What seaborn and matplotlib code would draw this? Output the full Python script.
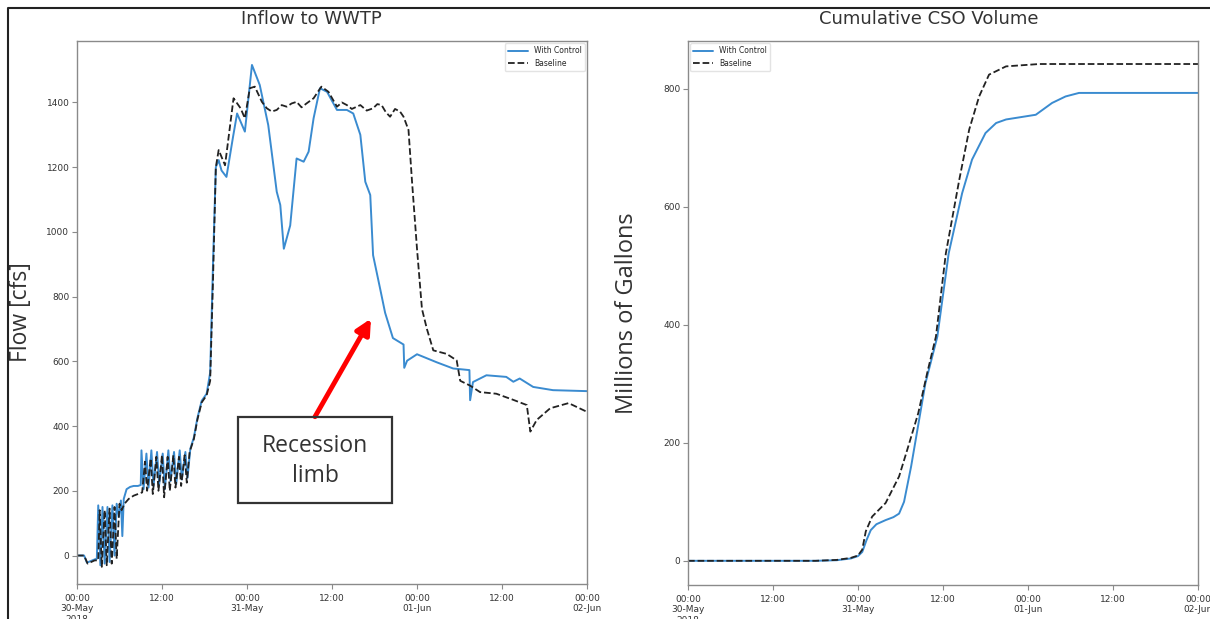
import matplotlib
matplotlib.use("Agg")
import matplotlib.pyplot as plt
from matplotlib.lines import Line2D
from matplotlib.patches import Rectangle
import numpy as np
import pandas as pd
import seaborn as sns

start = pd.Timestamp("2018-05-30 00:00")

# inflow to WWTP, hours from 30 May 00:00 -> cfs
ctrl_hours = [0, 1.0, 1.4, 2.5, 2.8, 3.0, 3.3, 3.6, 3.9, 4.3, 4.6, 5.0, 5.3, 5.6, 5.9,
              6.2, 6.4, 6.6, 7.0, 7.5, 8.0, 8.6, 9.0, 9.1, 9.4, 9.8, 10.1, 10.5, 10.8,
              11.3, 11.6, 12.1, 12.4, 12.9, 13.2, 13.7, 14.0, 14.5, 14.8, 15.3, 15.6,
              16.0, 16.5, 17.0, 17.6, 18.3, 18.8, 19.2, 19.6, 20.0, 20.4, 21.1, 22.0,
              22.6, 23.7, 24.7, 25.8, 27.0, 28.2, 28.7, 29.2, 30.1, 31.0, 32.0, 32.7,
              33.4, 34.3, 35.3, 36.7, 38.1, 39.0, 40.0, 40.7, 41.4, 41.8, 42.8, 43.5,
              44.6, 46.1, 46.2, 46.6, 48.0, 50.8, 53.1, 55.4, 55.5, 55.9, 57.8, 60.6,
              61.6, 62.5, 64.4, 67.2, 72.0]
ctrl_flow = [0, 0, -22, -12, -10, 155, -30, 150, -25, 150, -20, 155, 0, 160, 120,
             170, 60, 175, 205, 212, 215, 215, 218, 325, 205, 315, 210, 325, 215,
             320, 220, 315, 205, 325, 230, 320, 220, 325, 235, 320, 240,
             330, 365, 425, 478, 500, 565, 900, 1200, 1222, 1190, 1170, 1290,
             1366, 1310, 1516, 1454, 1330, 1124, 1083, 948, 1020, 1227, 1217, 1248,
             1351, 1444, 1433, 1377, 1377, 1366, 1300, 1155, 1114, 928, 824, 750,
             672, 652, 580, 602, 622, 597, 578, 573, 480, 536, 557, 552,
             537, 547, 521, 511, 508]

base_hours = [0, 1.0, 1.5, 2.5, 3.0, 3.2, 3.5, 3.9, 4.2, 4.6, 4.9, 5.3, 5.6, 6.0, 6.3,
              6.7, 7.3, 8.0, 8.6, 9.2, 9.6, 9.9, 10.4, 10.7, 11.2, 11.5, 12.0, 12.3,
              12.8, 13.1, 13.6, 13.9, 14.4, 14.7, 15.2, 15.5, 15.9, 16.5, 17.0, 17.6,
              18.3, 18.8, 19.2, 19.6, 20.0, 20.9, 22.1, 23.1, 23.7, 24.4, 25.1, 26.1,
              26.8, 27.5, 28.2, 28.9, 29.6, 30.3, 31.0, 31.7, 32.4, 33.4, 34.5, 35.5,
              36.7, 37.4, 38.1, 38.8, 40.0, 40.9, 41.8, 42.4, 43.0, 43.6, 44.2, 44.9,
              45.6, 46.1, 46.8, 47.3, 48.0, 48.7, 49.4, 50.3, 52.2, 53.6, 54.1, 55.5,
              56.9, 59.2, 61.6, 63.5, 64.0, 64.9, 66.8, 69.4, 72.0]
base_flow = [0, 0, -25, -15, -15, 140, -35, 140, -30, 145, -25, 150, -10, 160, 140,
             160, 175, 185, 190, 195, 290, 200, 300, 190, 305, 200, 310, 180,
             305, 200, 310, 210, 305, 215, 310, 225, 320, 360, 420, 473,
             495, 540, 850, 1200, 1253, 1206, 1413, 1382, 1351, 1444, 1449, 1402,
             1382, 1372, 1377, 1392, 1387, 1397, 1402, 1385, 1397, 1413, 1449, 1433,
             1387, 1400, 1392, 1380, 1392, 1375, 1382, 1395, 1392, 1370, 1356, 1380,
             1372, 1356, 1315, 1155, 948, 762, 700, 634, 623, 603, 540, 525,
             505, 500, 481, 465, 383, 419, 455, 471, 444]

# cumulative CSO volume -> millions of gallons
cso_ctrl_hours = [0, 18, 21, 23, 24, 24.6, 25.2, 25.8, 26.6, 27.9, 29.0, 29.8, 30.5,
                  31.5, 32.5, 33.5, 35.2, 36.8, 38.7, 40.1, 42.0, 43.5, 44.9, 47.0,
                  49.1, 51.4, 53.3, 55.2, 72.0]
cso_ctrl = [0, 0, 1, 4, 8, 15, 35, 52, 62, 69, 74, 80, 100,
            160, 230, 300, 380, 521, 623, 680, 725, 742, 748, 752,
            756, 776, 787, 793, 793]

cso_base_hours = [0, 18, 21, 23, 24, 24.6, 25.1, 26.0, 27.9, 29.8, 31.0, 32.5, 33.8,
                  35.0, 36.4, 38.3, 39.7, 41.1, 42.5, 44.9, 49.6, 72.0]
cso_base = [0, 0, 1.5, 5, 9, 19, 50, 75, 98, 143, 190, 250, 320,
            380, 521, 646, 731, 787, 824, 838, 842, 842]


def to_frame(hours, values):
    return pd.DataFrame({"time": start + pd.to_timedelta(hours, unit="h"),
                         "value": values})


sns.set_style("ticks")
plt.rcParams["font.family"] = ["DejaVu Sans"]

blue = "#3a8bd0"
spine_col = "#8a8a8a"

fig = plt.figure(figsize=(12.10, 6.19), dpi=100)
ax1 = fig.add_axes([77 / 1210, 1 - 584 / 619, 510 / 1210, 543 / 619])
ax2 = fig.add_axes([688 / 1210, 1 - 585 / 619, 510 / 1210, 544 / 619])

sns.lineplot(data=to_frame(ctrl_hours, ctrl_flow), x="time", y="value", ax=ax1,
             color=blue, lw=1.4, estimator=None, label="With Control")
sns.lineplot(data=to_frame(base_hours, base_flow), x="time", y="value", ax=ax1,
             color="#222222", lw=1.3, linestyle="--", estimator=None, label="Baseline")

sns.lineplot(data=to_frame(cso_ctrl_hours, cso_ctrl), x="time", y="value", ax=ax2,
             color=blue, lw=1.4, estimator=None, label="With Control")
sns.lineplot(data=to_frame(cso_base_hours, cso_base), x="time", y="value", ax=ax2,
             color="#222222", lw=1.3, linestyle="--", estimator=None, label="Baseline")

ax1.set_ylim(-88, 1590)
ax2.set_ylim(-41, 881)
ax1.set_yticks(range(0, 1401, 200))
ax2.set_yticks(range(0, 801, 200))

major_labels = ["00:00\n30-May\n2018", "00:00\n31-May", "00:00\n01-Jun", "00:00\n02-Jun"]
major = [start + pd.Timedelta(days=d) for d in range(4)]
minor = [start + pd.Timedelta(hours=12 + 24 * d) for d in range(3)]

for ax in (ax1, ax2):
    ax.set_xlim(major[0], major[-1])
    ax.set_xticks(major)
    ax.set_xticklabels(major_labels)
    ax.set_xticks(minor, minor=True)
    ax.set_xticklabels(["12:00"] * 3, minor=True)
    ax.tick_params(axis="both", which="both", labelsize=6.5, labelcolor="#333333",
                   color=spine_col, length=3.5, width=0.8, pad=2)
    ax.tick_params(axis="x", which="both", pad=3.5)
    ax.set_xlabel("")
    ax.set_ylabel("")
    for s in ax.spines.values():
        s.set_color(spine_col)
        s.set_linewidth(1.0)

ax1.legend(loc="upper right", fontsize=5.5, borderaxespad=0.3, handlelength=2.6,
           framealpha=0.8, edgecolor="#dddddd")
ax2.legend(loc="upper left", fontsize=5.5, borderaxespad=0.3, handlelength=2.6,
           framealpha=0.8, edgecolor="#dddddd")

ax1.text(0.46, 1.0405, "Inflow to WWTP", transform=ax1.transAxes, ha="center",
         va="center", fontsize=13, color="#333333")
ax2.text(0.473, 1.0405, "Cumulative CSO Volume", transform=ax2.transAxes, ha="center",
         va="center", fontsize=13, color="#333333")

# y axis titles, centred where they sit in the picture
ax1.text(-0.11, 0.5, "Flow [cfs]", transform=ax1.transAxes, rotation=90,
         ha="center", va="center", fontsize=16.5, family="Open Sans", color="#333333")
ax2.text(-0.1196, 0.5, "Millions of Gallons", transform=ax2.transAxes, rotation=90,
         ha="center", va="center", fontsize=17, family="Open Sans", color="#333333")

# annotation box and arrow
ax1.add_patch(Rectangle((0.316, 0.1486), 0.302, 0.1594, transform=ax1.transAxes,
                        fill=False, edgecolor="#333333", lw=1.6, zorder=5))
ax1.text(0.4667, 0.2265, "Recession\nlimb", transform=ax1.transAxes, ha="center",
         va="center", fontsize=16.5, family="Open Sans", color="#333333",
         linespacing=1.3)
ax1.annotate("", xy=(start + pd.Timedelta(hours=41.5), 732),
             xytext=(start + pd.Timedelta(hours=33.6), 429),
             arrowprops=dict(arrowstyle="-|>,head_length=0.9,head_width=0.45",
                             color="red", lw=3.5, shrinkA=0, shrinkB=0))

# outer frame of the screenshot
fig.add_artist(Line2D([8 / 1210, 8 / 1210, 1.0], [0, 1 - 8 / 619, 1 - 8 / 619],
                      transform=fig.transFigure, color="#222222", lw=1.5))

fig.savefig("out.png", dpi=100)
